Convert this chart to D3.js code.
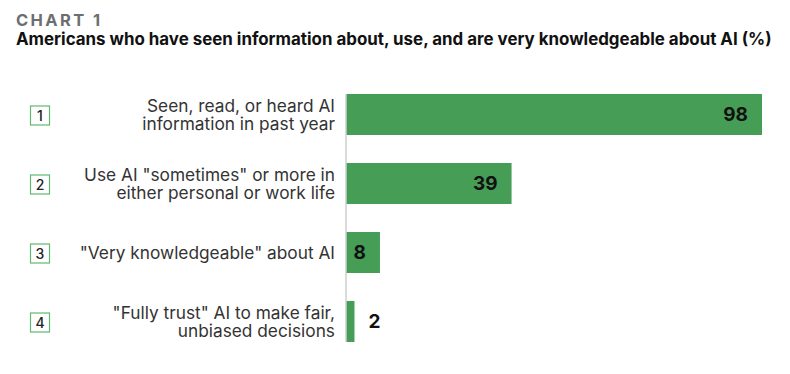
<!DOCTYPE html>
<html>
<head>
<meta charset="utf-8">
<script src="https://cdn.jsdelivr.net/npm/d3@7"></script>
<style>
  body { margin: 0; background: #fff; }
  svg { display: block; font-family: Inter, "Noto Sans", sans-serif; }
</style>
</head>
<body>
<div id="chart"></div>
<script>
// data
var numbers = ["1", "2", "3", "4"];
var labels = [
  ["Seen, read, or heard AI", "information in past year"],
  ["Use AI \"sometimes\" or more in", "either personal or work life"],
  ["\"Very knowledgeable\" about AI"],
  ["\"Fully trust\" AI to make fair,", "unbiased decisions"]
];
var values = [98, 39, 8, 2];

var W = 790, H = 374;
var margin = { top: 94, left: 346, right: 20, bottom: 32 };
var green = "#469d56";

var svg = d3.select("#chart").append("svg")
  .attr("width", W)
  .attr("height", H);

svg.append("text")
  .attr("x", 16).attr("y", 26)
  .style("font-size", "16.5px")
  .style("font-weight", "700")
  .style("letter-spacing", "2.4px")
  .style("fill", "#6d6e71")
  .text("CHART 1");

svg.append("text")
  .attr("x", 16).attr("y", 45)
  .style("font-size", "16.9px")
  .style("font-weight", "700")
  .style("fill", "#111")
  .text("Americans who have seen information about, use, and are very knowledgeable about AI (%)");

var x = d3.scaleLinear().domain([0, 100]).range([margin.left, margin.left + 424.5]);
var y = d3.scaleBand().domain(numbers).range([margin.top, H - margin.bottom]).paddingInner(0.406).paddingOuter(0);

// bars
svg.selectAll("rect.bar")
  .data(values).enter()
  .append("rect")
  .attr("class", "bar")
  .attr("x", x(0))
  .attr("y", function (d, i) { return y(numbers[i]); })
  .attr("width", function (d) { return x(d) - x(0); })
  .attr("height", y.bandwidth())
  .style("fill", green);

// axis line
svg.append("line")
  .attr("x1", x(0)).attr("x2", x(0))
  .attr("y1", y(numbers[0])).attr("y2", y(numbers[3]) + y.bandwidth())
  .style("stroke", "#cfcfcf")
  .style("stroke-width", "1.5px");

// value labels
svg.selectAll("text.value")
  .data(values).enter()
  .append("text")
  .attr("class", "value")
  .attr("x", function (d) { return d < 5 ? x(d) + 14 : x(d) - 14; })
  .attr("y", function (d, i) { return y(numbers[i]) + y.bandwidth() / 2; })
  .attr("dy", "0.36em")
  .attr("text-anchor", function (d) { return d < 5 ? "start" : "end"; })
  .style("font-size", "19px")
  .style("font-weight", "700")
  .style("fill", "#111")
  .text(function (d) { return d; });

// category labels
var lab = svg.selectAll("text.label")
  .data(labels).enter()
  .append("text")
  .attr("class", "label")
  .attr("text-anchor", "end")
  .style("font-size", "17.3px")
  .style("fill", "#333");
lab.each(function (lines, i) {
  var cy = y(numbers[i]) + y.bandwidth() / 2;
  var n = lines.length;
  d3.select(this).selectAll("tspan")
    .data(lines).enter()
    .append("tspan")
    .attr("x", x(0) - 11)
    .attr("y", function (d, j) { return cy + (j - (n - 1) / 2) * 18; })
    .attr("dy", "0.36em")
    .text(function (d) { return d; });
});

// number boxes
var box = svg.selectAll("g.num")
  .data(numbers).enter()
  .append("g")
  .attr("class", "num")
  .attr("transform", function (d) { return "translate(40," + (y(d) + y.bandwidth() / 2 + 1) + ")"; });
box.append("rect")
  .attr("x", -9.5).attr("y", -9.5)
  .attr("width", 19).attr("height", 19)
  .style("fill", "#fff")
  .style("stroke", "#62b972")
  .style("stroke-width", "1.2px");
box.append("text")
  .attr("text-anchor", "middle")
  .attr("dy", "0.36em")
  .style("font-size", "14px")
  .style("font-weight", "500")
  .style("fill", "#222")
  .text(function (d) { return d; });
</script>
</body>
</html>
